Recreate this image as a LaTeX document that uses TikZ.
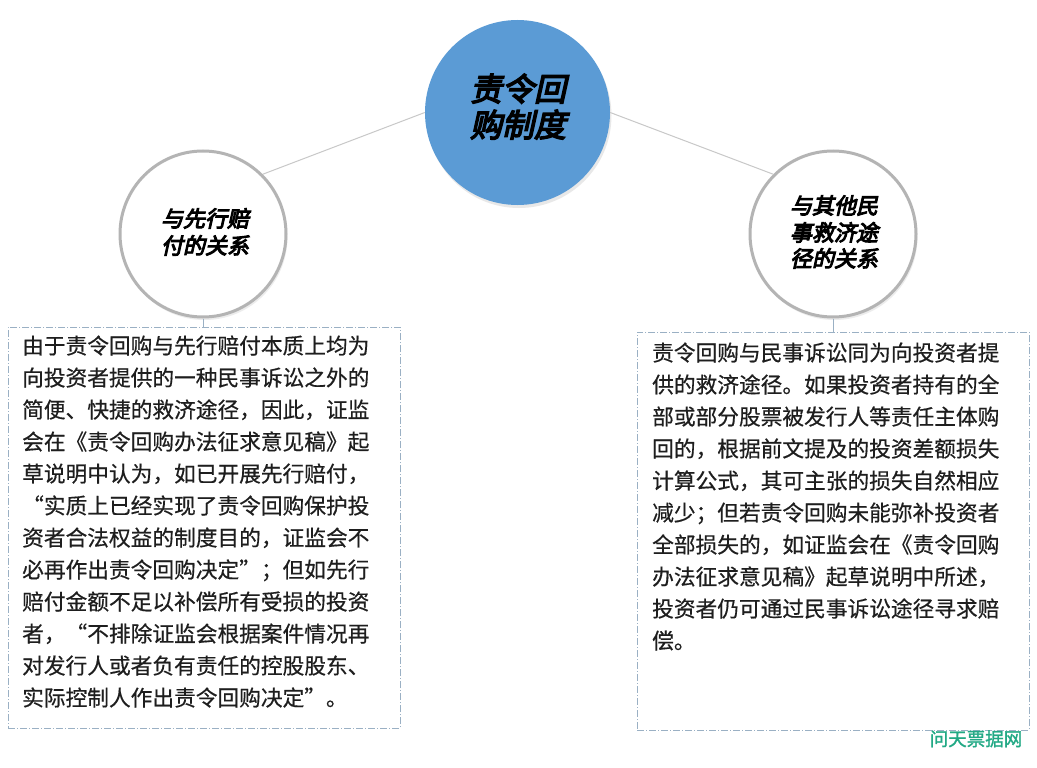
\documentclass[tikz,border=0pt]{standalone}
\usepackage{fontspec}
\setmainfont{Noto Sans CJK SC}[FakeBold=0.5]
\newfontfamily\cjkbi{Noto Sans CJK SC}[FakeSlant=0.22,FakeBold=4.5]
\newfontfamily\cjkwm{Noto Sans CJK SC}[FakeBold=1.5]
\usetikzlibrary{shadows}
\definecolor{topblue}{HTML}{5B9BD5}
\definecolor{ringgray}{HTML}{B4B4B4}
\definecolor{linkgray}{HTML}{C8C8C8}
\definecolor{boxline}{HTML}{9AB0C4}
\definecolor{wmgreen}{HTML}{22A985}
\definecolor{txt}{HTML}{1E1E1E}
\tikzset{
  topcircle/.style={circle, fill=topblue, draw=none, minimum size=185pt, inner sep=0pt,
    drop shadow={opacity=0.18, shadow xshift=1.5pt, shadow yshift=-3pt}},
  sidecircle/.style={circle, fill=white, draw=ringgray, line width=3pt, minimum size=166pt, inner sep=0pt,
    drop shadow={opacity=0.15, shadow xshift=1.5pt, shadow yshift=-3pt}},
  link/.style={draw=linkgray, line width=1pt},
  textbox/.style={draw=boxline, line width=0.9pt, dash pattern=on 7pt off 2pt on 1pt off 2pt, fill=white, inner sep=0pt},
  stem/.style={draw=boxline, line width=0.9pt},
  bigtitle/.style={font=\cjkbi\fontsize{32pt}{36pt}\selectfont, text=black, inner sep=0pt, text height=0.88em, text depth=0.12em},
  smalltitle/.style={font=\cjkbi\fontsize{22pt}{27pt}\selectfont, text=black, inner sep=0pt, text height=0.88em, text depth=0.12em},
  bodyline/.style={font=\fontsize{21.7pt}{32pt}\selectfont, text=txt, inner sep=0pt, anchor=west, text height=0.88em, text depth=0.12em},
  watermark/.style={font=\cjkwm\fontsize{18.5pt}{20pt}\selectfont, text=wmgreen, inner sep=0pt, text height=0.88em, text depth=0.12em}
}
\begin{document}
\begin{tikzpicture}[x=1pt,y=-1pt]
\useasboundingbox[fill=white] (0,0) rectangle (1037,768);
% boxes
\node[textbox, minimum width=392pt, minimum height=401pt] (lbox) at (204,527.5) {};
\node[textbox, minimum width=392pt, minimum height=398pt] (rbox) at (833,531) {};
% circles
\node[topcircle] (top) at (517.5,112.5) {};
\node[sidecircle] (lc) at (203,234) {};
\node[sidecircle] (rc) at (833,234) {};
% connectors
\draw[link] (top.west) -- (lc.north east);
\draw[link] (top.east) -- (rc.north west);
\draw[stem] (lc.south) -- (lc.south |- lbox.north);
\draw[stem] (rc.south) -- (rc.south |- rbox.north);
% circle titles
\node[bigtitle] (t1) at (518,97) {责令回};
\node[bigtitle] (t2) at (518,133) {购制度};
\node[smalltitle] (l1) at (205,223) {与先行赔};
\node[smalltitle] (l2) at (205,250) {付的关系};
\node[smalltitle] (r1) at (834,210) {与其他民};
\node[smalltitle] (r2) at (834,237) {事救济途};
\node[smalltitle] (r3) at (834,263) {径的关系};
% left text
\foreach \i/\s in {
 0/由于责令回购与先行赔付本质上均为,
 1/向投资者提供的一种民事诉讼之外的,
 2/简便、快捷的救济途径，因此，证监,
 3/会在《责令回购办法征求意见稿》起,
 4/草说明中认为，如已开展先行赔付，,
 5/“实质上已经实现了责令回购保护投,
 6/资者合法权益的制度目的，证监会不,
 7/必再作出责令回购决定”；但如先行,
 8/赔付金额不足以补偿所有受损的投资,
 9/者，“不排除证监会根据案件情况再,
 10/对发行人或者负有责任的控股股东、,
 11/实际控制人作出责令回购决定”。}
 \node[bodyline] (lt\i) at (22,350+32*\i) {\s};
% right text
\foreach \i/\s in {
 0/责令回购与民事诉讼同为向投资者提,
 1/供的救济途径。如果投资者持有的全,
 2/部或部分股票被发行人等责任主体购,
 3/回的，根据前文提及的投资差额损失,
 4/计算公式，其可主张的损失自然相应,
 5/减少；但若责令回购未能弥补投资者,
 6/全部损失的，如证监会在《责令回购,
 7/办法征求意见稿》起草说明中所述，,
 8/投资者仍可通过民事诉讼途径寻求赔,
 9/偿。}
 \node[bodyline] (rt\i) at (652,357+32*\i) {\s};
% watermark
\node[watermark] (wm) at (976,742) {问天票据网};
\end{tikzpicture}
\end{document}
